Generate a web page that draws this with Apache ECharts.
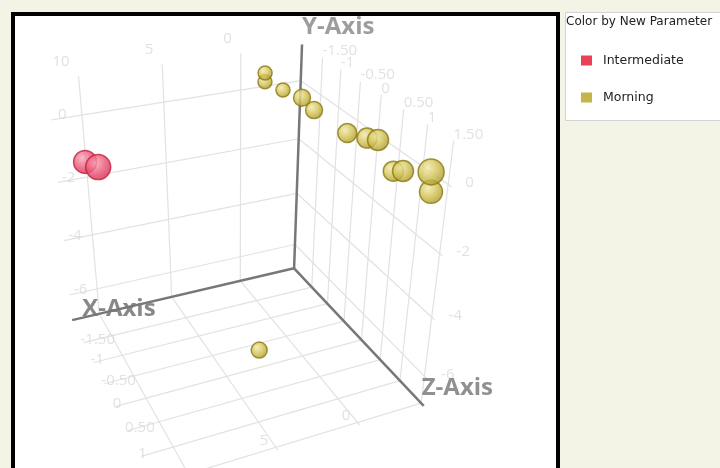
<!DOCTYPE html>
<html>
<head>
<meta charset="utf-8">
<script src="https://cdn.jsdelivr.net/npm/echarts@6/dist/echarts.min.js"></script>
<style>
html,body{margin:0;padding:0;background:#f4f4e6;}
#chart{width:720px;height:468px;}
</style>
</head>
<body>
<div id="chart"></div>
<script>
// Axis extents and ticks
const xRange = [-4.12, 11.8];
const yRange = [-6.97, 1.18];
const zRange = [-2.1, 1.56];
const xTicks = [0, 5, 10];
const yTicks = [0, -2, -4, -6];
const zTicks = [-1.5, -1, -0.5, 0, 0.5, 1, 1.5];
const xTickLabels = ['0', '5', '10'];
const yTickLabels = ['0', '-2', '-4', '-6'];
const zTickLabels = ['-1.50', '-1', '-0.50', '0', '0.50', '1', '1.50'];

// Intermediate
const interX = [10.5, 10.5];
const interY = [-1.06, -0.6];
const interZ = [-1.69, -1.05];
const interWeight = [6.5, 7.5];

// Morning
const mornX = [-1.0, -1.0, -2.0, -2.8, -3.0, -3.3, -3.4, -3.4, -3.5, -3.5, -3.7, -3.7, 2.7];
const mornY = [0.7, 0.42, 0.16, 0.02, -0.17, -0.25, -0.02, 0.15, -0.45, -0.25, 0.18, -0.34, -6.5];
const mornZ = [-1.8, -1.8, -1.7, -1.48, -1.21, -0.43, 0.01, 0.26, 0.61, 0.81, 1.29, 1.33, -0.1];
const mornWeight = [2, 2, 2, 3.5, 3.5, 4.5, 5, 5.5, 5, 5.5, 8, 6.5, 3];

// Perspective camera looking down on the box
const view = { yaw: 0.413, pitch: 0.5228, distance: 948.6, centerX: 236.6, centerY: 244.4,
  boxWidth: 284.0, boxHeight: 287.7, boxDepth: 290.2 };

function project(X, Y, Z) {
  const a = (X - xRange[0]) / (xRange[1] - xRange[0]);
  const b = (Y - yRange[0]) / (yRange[1] - yRange[0]);
  const c = (Z - zRange[0]) / (zRange[1] - zRange[0]);
  const xw = -(a - 0.5) * view.boxWidth, yw = (b - 0.5) * view.boxHeight, zw = (c - 0.5) * view.boxDepth;
  const cy = Math.cos(view.yaw), sy = Math.sin(view.yaw), cp = Math.cos(view.pitch), sp = Math.sin(view.pitch);
  const xr = xw * cy + zw * sy;
  const zr = -xw * sy + zw * cy;
  const y2 = yw * cp - zr * sp;
  const z2 = yw * sp + zr * cp;
  const s = view.distance / (view.distance - z2);
  return { p: [view.centerX + xr * s, view.centerY - y2 * s], depth: z2 };
}
const pt = (x, y, z) => project(x, y, z).p;
const seg = (a, b) => ({ coords: [pt(...a), pt(...b)] });

const [X0, X1] = xRange, [Y0, Y1] = yRange, [Z0, Z1] = zRange;

// Wall and floor grid
const gridSegs = [];
xTicks.forEach(x => gridSegs.push(seg([x, Y0, Z0], [x, Y1, Z0])));
yTicks.forEach(y => gridSegs.push(seg([X0, y, Z0], [X1, y, Z0])));
zTicks.forEach(z => gridSegs.push(seg([X0, Y0, z], [X0, Y1, z])));
yTicks.forEach(y => gridSegs.push(seg([X0, y, Z0], [X0, y, Z1])));
xTicks.forEach(x => gridSegs.push(seg([x, Y0, Z0], [x, Y0, Z1])));
zTicks.forEach(z => gridSegs.push(seg([X0, Y0, z], [X1, Y0, z])));

const axisSegs = [
  seg([X0, Y0, Z0], [X1, Y0, Z0]),
  seg([X0, Y0, Z0], [X0, Y1, Z0]),
  seg([X0, Y0, Z0], [X0, Y0, Z1])
];

function labelSeries(items, lab) {
  return {
    type: 'scatter', silent: true, symbolSize: 1, z: 3,
    itemStyle: { color: 'rgba(0,0,0,0)' },
    label: Object.assign({ show: true, position: 'inside', formatter: '{b}', color: '#d9d9d9',
      fontSize: 15, fontFamily: 'Open Sans' }, lab),
    data: items.map(it => ({ name: it[1], value: it[0] }))
  };
}

function points(xs, ys, zs, ws) {
  return xs.map((x, i) => {
    const r = project(x, ys[i], zs[i]);
    return { v: [r.p[0], r.p[1], ws[i]], d: r.depth };
  }).sort((a, b) => a.d - b.d).map(o => o.v);
}
const ball = (c0, c1, c2) => ({ type: 'radial', x: 0.38, y: 0.35, r: 0.68,
  colorStops: [{ offset: 0, color: c0 }, { offset: 0.55, color: c1 }, { offset: 1, color: c2 }] });

const chart = echarts.init(document.getElementById('chart'));
chart.setOption({
  animation: false,
  title: { text: 'Color by New Parameter', left: 566, top: 16, padding: 0,
    textStyle: { fontSize: 12, fontWeight: 'normal', color: '#222', fontFamily: 'DejaVu Sans' } },
  legend: { orient: 'vertical', left: 581, top: 54, itemWidth: 11, itemHeight: 10, itemGap: 24, padding: 0,
    textStyle: { fontSize: 12.5, color: '#222', fontFamily: 'DejaVu Sans', padding: [0, 0, 0, 6] },
    data: [{ name: 'Intermediate', icon: 'rect', itemStyle: { color: '#e3122c', borderWidth: 0 } },
           { name: 'Morning', icon: 'rect', itemStyle: { color: '#b6a21a', borderWidth: 0 } }] },
  graphic: [
    { type: 'rect', z: 0, shape: { x: 13, y: 14, width: 545, height: 460 }, style: { fill: '#fff', stroke: '#000', lineWidth: 4 } },
    { type: 'rect', z: 0, shape: { x: 565.5, y: 12.5, width: 160, height: 108 }, style: { fill: '#fff', stroke: '#d2d2d2', lineWidth: 1 } }
  ],
  visualMap: { show: false, type: 'continuous', dimension: 2, min: 2, max: 8, seriesIndex: [9, 10],
    inRange: { symbolSize: [14, 26] } },
  grid: { left: 0, top: 0, right: 0, bottom: 0 },
  xAxis: { type: 'value', min: 0, max: 720, show: false },
  yAxis: { type: 'value', min: 0, max: 468, inverse: true, show: false },
  series: [
    { type: 'lines', coordinateSystem: 'cartesian2d', silent: true, z: 2,
      lineStyle: { color: '#e2e2e2', width: 1.2, opacity: 1 }, data: gridSegs },
    labelSeries(xTicks.map((x, i) => [pt(x, Y1, Z0), xTickLabels[i]]), { align: 'right', verticalAlign: 'bottom', offset: [-9, -7] }),
    labelSeries(yTicks.map((y, i) => [pt(X1, y, Z0), yTickLabels[i]]), { align: 'center', verticalAlign: 'middle', offset: [11, -5] }),
    labelSeries(zTicks.map((z, i) => [pt(X0, Y1, z), zTickLabels[i]]), { align: 'left', verticalAlign: 'bottom', offset: [0, 1] }),
    labelSeries(yTicks.map((y, i) => [pt(X0, y, Z1), yTickLabels[i]]), { align: 'left', verticalAlign: 'middle', offset: [14, -4] }),
    labelSeries(zTicks.map((z, i) => [pt(X1, Y0, z), zTickLabels[i]]), { align: 'left', verticalAlign: 'middle', offset: [-3, -3] }),
    labelSeries(xTicks.map((x, i) => [pt(x, Y0, Z1), xTickLabels[i]]), { align: 'center', verticalAlign: 'middle', offset: [-14, -10] }),
    { type: 'scatter', silent: true, symbolSize: 1, z: 4, itemStyle: { color: 'rgba(0,0,0,0)' },
      label: { show: true, position: 'inside', formatter: '{b}', color: '#858585', fontSize: 24, fontWeight: 'bold', fontFamily: 'Open Sans' },
      data: [
        { name: 'Y-Axis', value: pt(X0, Y1, Z0), label: { align: 'left', verticalAlign: 'bottom', offset: [0, -5] } },
        { name: 'X-Axis', value: pt(X1, Y0, Z0), label: { align: 'left', verticalAlign: 'middle', offset: [10, -11], color: '#6a6a6a' } },
        { name: 'Z-Axis', value: pt(X0, Y0, Z1), label: { align: 'left', verticalAlign: 'middle', offset: [-2, -18], color: '#747474' } }
      ] },
    { type: 'lines', coordinateSystem: 'cartesian2d', silent: true, z: 5,
      lineStyle: { color: '#777', width: 2.5, opacity: 1 }, data: axisSegs },
    { name: 'Intermediate', type: 'scatter', z: 6, data: points(interX, interY, interZ, interWeight),
      itemStyle: { color: ball('#f7a9bb', '#ea5474', '#d42a4b'), borderColor: '#c41e40', borderWidth: 1.5 } },
    { name: 'Morning', type: 'scatter', z: 6, data: points(mornX, mornY, mornZ, mornWeight),
      itemStyle: { color: ball('#f1e9a6', '#d0bf50', '#a9962a'), borderColor: '#8a7912', borderWidth: 1.5 } }
  ]
});
</script>
</body>
</html>
